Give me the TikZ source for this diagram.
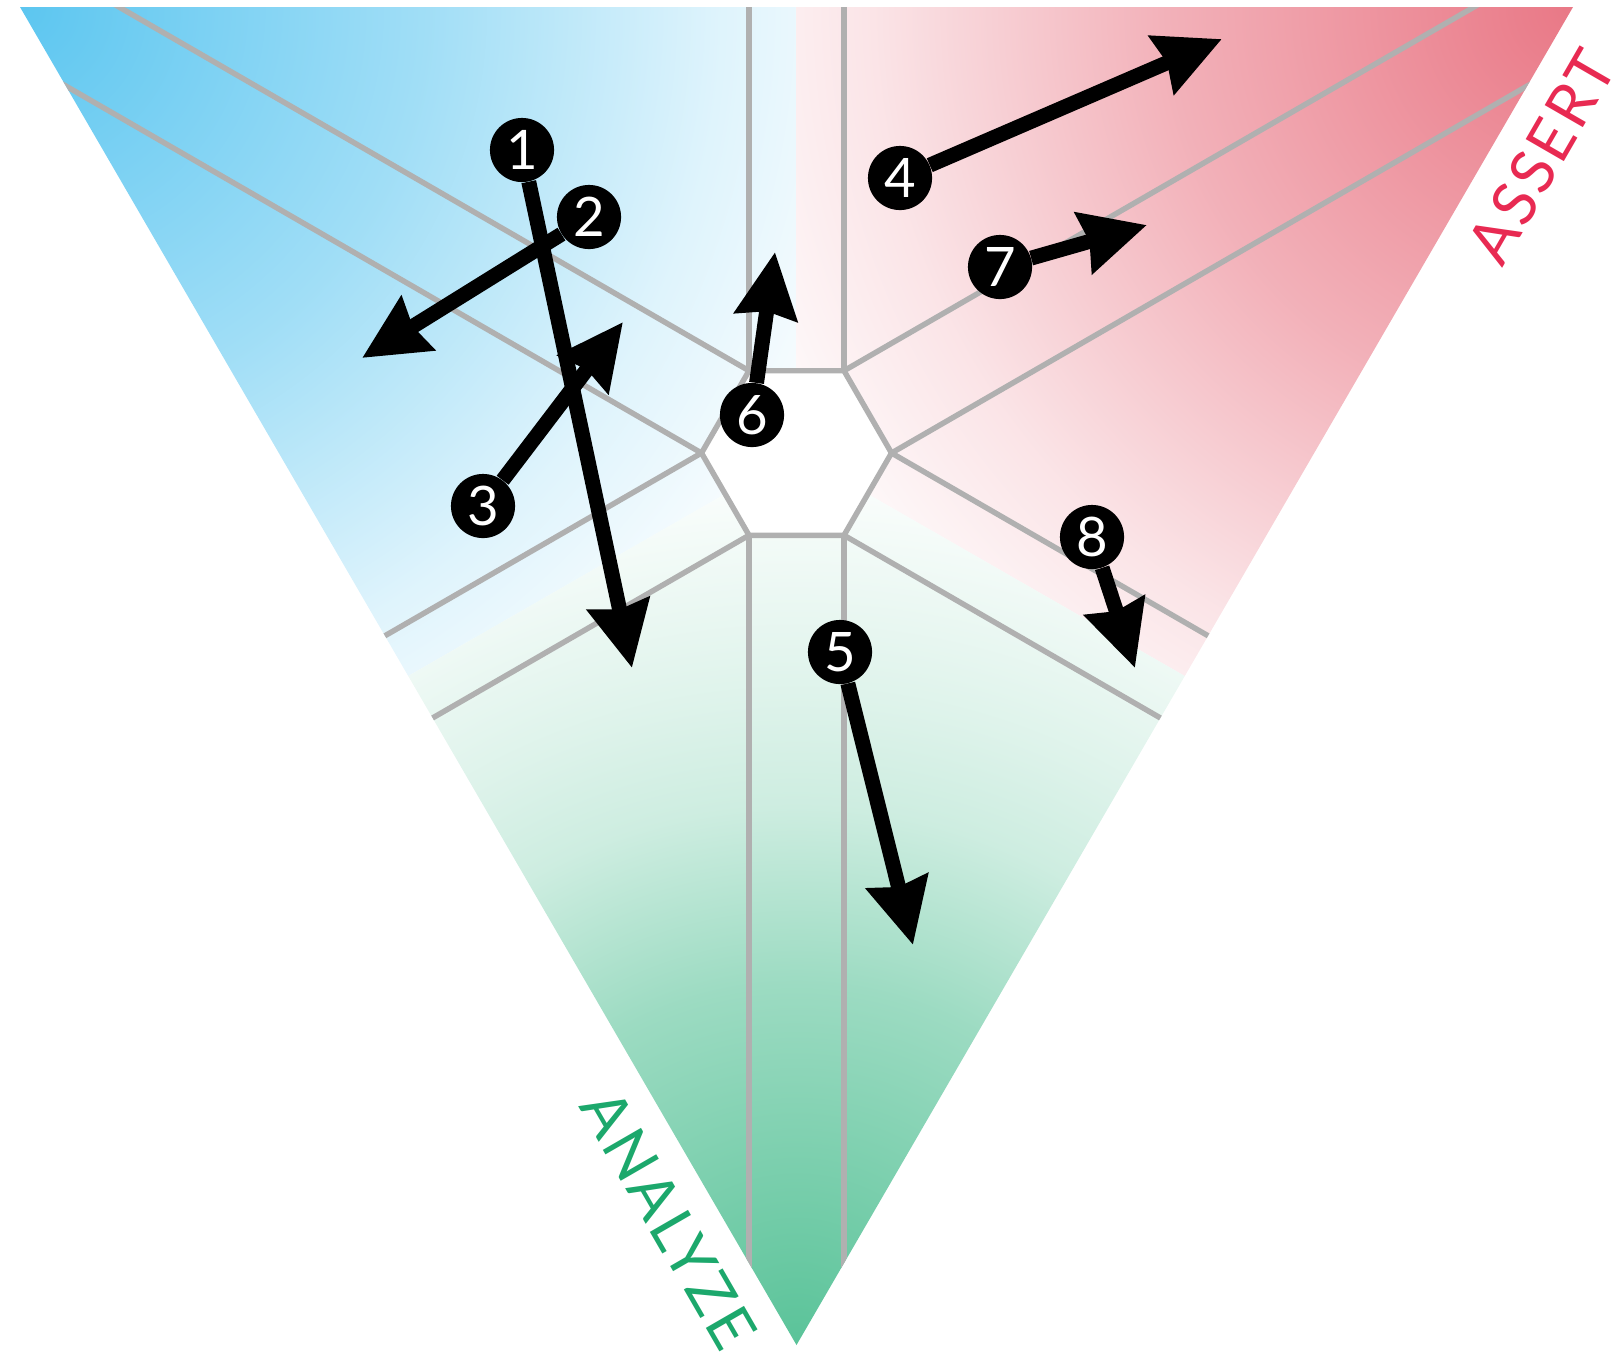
\documentclass[tikz,border=0pt]{standalone}
\usepackage{fontspec}
\setmainfont{Lato}
\newfontfamily\labelfont[LetterSpace=5]{Lato}
\usetikzlibrary{arrows.meta}

\definecolor{cornerblue}{RGB}{92,198,240}
\definecolor{cornerred}{RGB}{233,120,134}
\definecolor{cornergreen}{RGB}{90,195,153}
\definecolor{assertred}{RGB}{232,42,82}
\definecolor{analyzegreen}{RGB}{28,168,108}
\definecolor{gridgrey}{RGB}{176,176,176}

% corner fades, 25bp = radius of the shaded circle
\pgfdeclareradialshading{bluefade}{\pgfpoint{0bp}{0bp}}{color(0bp)=(cornerblue); color(11bp)=(cornerblue!58!white); color(19bp)=(cornerblue!20!white); color(25bp)=(white); color(50bp)=(white)}
\pgfdeclareradialshading{redfade}{\pgfpoint{0bp}{0bp}}{color(0bp)=(cornerred); color(11bp)=(cornerred!58!white); color(19bp)=(cornerred!20!white); color(25bp)=(white); color(50bp)=(white)}
\pgfdeclareradialshading{greenfade}{\pgfpoint{0bp}{0bp}}{color(0bp)=(cornergreen); color(10bp)=(cornergreen!60!white); color(15bp)=(cornergreen!30!white); color(18bp)=(cornergreen!20!white); color(25bp)=(white); color(50bp)=(white)}

\begin{document}
\begin{tikzpicture}[x=0.02cm, y=-0.02cm,
    gridline/.style={draw=gridgrey, line width=3.1pt},
    marker/.style={circle, fill=black, text=white, minimum size=36.5pt, inner sep=0pt, font=\fontsize{31}{31}\selectfont},
    movearrow/.style={line width=8.5pt, -{Stealth[length=37pt, width=35pt, inset=3pt]}},
    cornerlabel/.style={anchor=north, inner sep=0pt, font=\labelfont\fontsize{35}{35}\selectfont}]
    \useasboundingbox (0,0) rectangle (1621,1357);

    % Triangle corners and centre
    \coordinate (tl) at (20,7);
    \coordinate (tr) at (1573,7);
    \coordinate (bt) at (796.5,1345);
    \coordinate (c) at (796.5,453);
    \coordinate (topmid) at (796.5,7);
    \coordinate (leftmid) at (408.25,676);
    \coordinate (rightmid) at (1184.75,676);

    % Colour fades
    \fill[white] (tl) -- (tr) -- (bt) -- cycle;
    \begin{scope}
        \clip (tl) -- (topmid) -- (c) -- (leftmid) -- cycle;
        \shade[shading=bluefade] (tl) circle (920);
    \end{scope}
    \begin{scope}
        \clip (tr) -- (topmid) -- (c) -- (rightmid) -- cycle;
        \shade[shading=redfade] (tr) circle (920);
    \end{scope}
    \begin{scope}
        \clip (bt) -- (leftmid) -- (c) -- (rightmid) -- cycle;
        \shade[shading=greenfade] (bt) circle (900);
    \end{scope}

    % Hexagon and rays
    \begin{scope}
        \clip (tl) -- (tr) -- (bt) -- cycle;
        \begin{scope}[shift={(c)}]
            \fill[white] (0:95) -- (60:95) -- (120:95) -- (180:95) -- (240:95) -- (300:95) -- cycle;
            \foreach \a in {0,60,...,300} {
                \draw[gridline] (\a:95) -- ++(\a+30:1700);
                \draw[gridline] (\a:95) -- ++(\a-30:1700);
            }
            \draw[gridline, line join=round] (0:95) -- (60:95) -- (120:95) -- (180:95) -- (240:95) -- (300:95) -- cycle;
        \end{scope}
    \end{scope}

    % Numbered moves
    \node[marker] (n1) at (522,150) {1};
    \node[marker] (n2) at (589,217) {2};
    \node[marker] (n3) at (483,506) {3};
    \node[marker] (n4) at (900,178) {4};
    \node[marker] (n5) at (840,652) {5};
    \node[marker] (n6) at (752,415) {6};
    \node[marker] (n7) at (1000,267) {7};
    \node[marker] (n8) at (1092,537) {8};

    \coordinate (t1) at (632,668);
    \coordinate (t2) at (362,358);
    \coordinate (t3) at (623,322);
    \coordinate (t4) at (1222,39);
    \coordinate (t5) at (913,945);
    \coordinate (t6) at (775,252);
    \coordinate (t7) at (1147,225);
    \coordinate (t8) at (1135,668);

    \foreach \i in {1,...,8}
        \draw[movearrow] (n\i) -- (t\i);

    % Edge labels
    \node[cornerlabel, rotate=60, text=assertred] (assert) at (1522,145) {ASSERT};
    \node[cornerlabel, rotate=-60, text=analyzegreen] (analyze) at (688,1208) {ANALYZE};
\end{tikzpicture}
\end{document}
